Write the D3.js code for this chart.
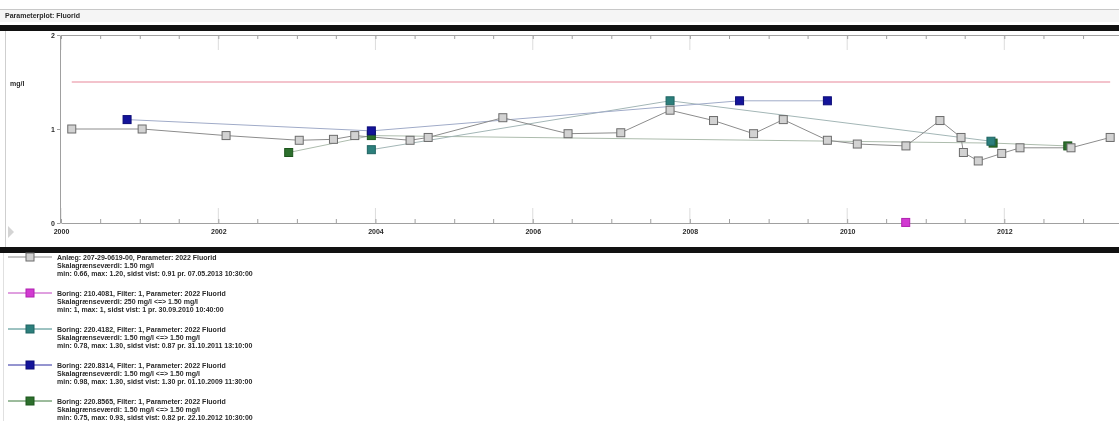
<!DOCTYPE html>
<html>
<head>
<meta charset="utf-8">
<script src="https://cdn.jsdelivr.net/npm/d3@7"></script>
<style>
  html, body { margin: 0; padding: 0; background: #fff; }
  svg { display: block; font-family: "Liberation Sans", Arial, sans-serif; will-change: transform; }
  .lbl { font-size: 7px; font-weight: bold; fill: #2a2a2a; }
</style>
</head>
<body>
<svg id="chart" width="1119" height="421"></svg>
<script>
// ---- Data (Fluorid, mg/l) ----
const grayDates  = ["2000-02-20","2001-01-12","2002-02-06","2003-01-12","2003-06-20","2003-09-27","2004-06-10","2004-09-02","2005-08-15","2006-06-14","2007-02-14","2007-10-01","2008-04-20","2008-10-23","2009-03-10","2009-10-01","2010-02-17","2010-10-01","2011-03-08","2011-06-14","2011-06-25","2011-09-02","2011-12-20","2012-03-14","2012-11-06","2013-05-07"];
const grayValues = [1.00,1.00,0.93,0.88,0.89,0.93,0.88,0.91,1.12,0.95,0.96,1.20,1.09,0.95,1.10,0.88,0.84,0.82,1.09,0.91,0.75,0.66,0.74,0.80,0.80,0.91];

const magentaDates  = ["2010-09-30"];
const magentaValues = [1];          // raw mg/l, scale limit 250 mg/l

const tealDates  = ["2003-12-13","2007-10-01","2011-10-31"];
const tealValues = [0.78,1.30,0.87];

const blueDates  = ["2000-11-03","2003-12-13","2008-08-19","2009-10-01"];
const blueValues = [1.10,0.98,1.30,1.30];

const greenDates  = ["2002-11-24","2003-12-13","2011-11-10","2012-10-22"];
const greenValues = [0.75,0.93,0.85,0.82];

const limitValue = 1.50;            // Skalagrænseværdi, mg/l
const yTicks = [0, 1, 2];

const legendLines = [
  ["Anlæg: 207-29-0619-00, Parameter: 2022 Fluorid",
   "Skalagrænseværdi: 1.50 mg/l",
   "min: 0.66, max: 1.20, sidst vist: 0.91 pr. 07.05.2013 10:30:00"],
  ["Boring: 210.4081, Filter: 1, Parameter: 2022 Fluorid",
   "Skalagrænseværdi: 250 mg/l <=> 1.50 mg/l",
   "min: 1, max: 1, sidst vist: 1 pr. 30.09.2010 10:40:00"],
  ["Boring: 220.4182, Filter: 1, Parameter: 2022 Fluorid",
   "Skalagrænseværdi: 1.50 mg/l <=> 1.50 mg/l",
   "min: 0.78, max: 1.30, sidst vist: 0.87 pr. 31.10.2011 13:10:00"],
  ["Boring: 220.8314, Filter: 1, Parameter: 2022 Fluorid",
   "Skalagrænseværdi: 1.50 mg/l <=> 1.50 mg/l",
   "min: 0.98, max: 1.30, sidst vist: 1.30 pr. 01.10.2009 11:30:00"],
  ["Boring: 220.8565, Filter: 1, Parameter: 2022 Fluorid",
   "Skalagrænseværdi: 1.50 mg/l <=> 1.50 mg/l",
   "min: 0.75, max: 0.93, sidst vist: 0.82 pr. 22.10.2012 10:30:00"]
];

// ---- Series definitions ----
const parse = d3.timeParse("%Y-%m-%d");
const series = [
  { dates: grayDates,    values: grayValues,    scaleLimit: 1.50, fill: "#d2d2d2", stroke: "#6c6c6c", line: "#8c8c8c", legLine: "#8c8c8c" },
  { dates: magentaDates, values: magentaValues, scaleLimit: 250,  fill: "#d23ad2", stroke: "#b020b0", line: "#d070d0", legLine: "#c040c0" },
  { dates: tealDates,    values: tealValues,    scaleLimit: 1.50, fill: "#2c7f7c", stroke: "#1f6462", line: "#a3b6b6", legLine: "#3c8684" },
  { dates: blueDates,    values: blueValues,    scaleLimit: 1.50, fill: "#14149a", stroke: "#0c0c78", line: "#a0abc8", legLine: "#2a2aa0" },
  { dates: greenDates,   values: greenValues,   scaleLimit: 1.50, fill: "#2d6f2d", stroke: "#1d561d", line: "#adbcad", legLine: "#3a783a" }
];
series.forEach(s => {
  // values are rescaled so each series' limit sits at the 1.50 mg/l line
  s.points = s.dates.map((d, i) => ({ date: parse(d), value: s.values[i] * limitValue / s.scaleLimit }));
});

const svg = d3.select("#chart");
const W = 1119;

// ---- Frame: title bar and black separators ----
svg.append("rect").attr("x", 0).attr("y", 9).attr("width", W).attr("height", 13).attr("fill", "#f5f5f5");
svg.append("line").attr("x1", 0).attr("x2", W).attr("y1", 9.5).attr("y2", 9.5).attr("stroke", "#c8c8c8");
svg.append("text").attr("class", "lbl").attr("x", 5).attr("y", 18).text("Parameterplot: Fluorid");
svg.append("rect").attr("x", 0).attr("y", 25).attr("width", W).attr("height", 6).attr("fill", "#111");
svg.append("rect").attr("x", 0).attr("y", 247).attr("width", W).attr("height", 6).attr("fill", "#111");
svg.append("line").attr("x1", 5.5).attr("x2", 5.5).attr("y1", 31).attr("y2", 247).attr("stroke", "#cfcfcf");
svg.append("line").attr("x1", 3.5).attr("x2", 3.5).attr("y1", 253).attr("y2", 421).attr("stroke", "#e0e0e0");
svg.append("path").attr("d", "M8,226 L14,232 L8,238 Z").attr("fill", "#d4d4d4");

// ---- Scales ----
const x = d3.scaleTime().domain([parse("2000-01-01"), parse("2013-06-17")]).range([61, W]);
const y = d3.scaleLinear().domain([0, 2]).range([223, 35]);

// ---- Axes ----
const halfYears = d3.timeMonth.every(6).range(parse("2000-01-01"), parse("2013-07-01"));
const evenYears = d3.timeYear.every(2).range(parse("2000-01-01"), parse("2013-07-01"));

// faint extensions at labelled years
evenYears.forEach(d => {
  svg.append("line").attr("x1", x(d)).attr("x2", x(d)).attr("y1", 35).attr("y2", 50).attr("stroke", "#dcdcdc");
  svg.append("line").attr("x1", x(d)).attr("x2", x(d)).attr("y1", 208).attr("y2", 223).attr("stroke", "#dcdcdc");
});

const fmtYear = d3.timeFormat("%Y");
const axisB = svg.append("g").attr("transform", "translate(0,223)")
  .call(d3.axisBottom(x).tickValues(halfYears).tickSizeInner(-4).tickSizeOuter(0).tickPadding(6)
    .tickFormat(d => (d.getMonth() === 0 && d.getFullYear() % 2 === 0) ? fmtYear(d) : ""));
const axisT = svg.append("g").attr("transform", "translate(0,35)")
  .call(d3.axisTop(x).tickValues(halfYears).tickSizeInner(-4).tickSizeOuter(0).tickFormat(""));
const axisL = svg.append("g").attr("transform", "translate(60,0)")
  .call(d3.axisLeft(y).tickValues(yTicks).tickSizeInner(3).tickSizeOuter(0).tickPadding(2).tickFormat(d3.format("d")));

[axisB, axisT, axisL].forEach(g => {
  g.attr("font-family", null).attr("font-size", null);
  g.select(".domain").attr("stroke", "#a0a0a0");
  g.selectAll(".tick line").attr("stroke", "#a0a0a0");
  g.selectAll(".tick text").attr("class", "lbl").attr("fill", null);
});
svg.append("text").attr("class", "lbl").attr("x", 10).attr("y", 86).text("mg/l");

// ---- Limit line ----
const grayExtent = d3.extent(series[0].points, p => p.date);
svg.append("line")
  .attr("x1", x(grayExtent[0])).attr("x2", x(grayExtent[1]))
  .attr("y1", y(limitValue)).attr("y2", y(limitValue))
  .attr("stroke", "#f3c3cc").attr("stroke-width", 2);

// ---- Series lines and markers ----
const lineGen = d3.line().x(p => x(p.date)).y(p => y(p.value));
const drawOrder = [4, 2, 3, 1, 0];
drawOrder.forEach(i => {
  const s = series[i];
  svg.append("path").datum(s.points).attr("d", lineGen)
    .attr("fill", "none").attr("stroke", s.line).attr("stroke-width", 1);
});
const ms = 8;
drawOrder.forEach(i => {
  const s = series[i];
  svg.append("g").selectAll("rect").data(s.points).join("rect")
    .attr("x", p => x(p.date) - ms / 2).attr("y", p => y(p.value) - ms / 2)
    .attr("width", ms).attr("height", ms)
    .attr("fill", s.fill).attr("stroke", s.stroke).attr("stroke-width", 1);
});

// ---- Legend ----
const legTop = 257, legStep = 36, lineStep = 8;
legendLines.forEach((lines, i) => {
  const s = series[i];
  const gy = legTop + i * legStep;
  svg.append("line").attr("x1", 8).attr("x2", 52).attr("y1", gy).attr("y2", gy)
    .attr("stroke", s.legLine).attr("stroke-width", 1);
  svg.append("rect").attr("x", 30 - ms / 2).attr("y", gy - ms / 2).attr("width", ms).attr("height", ms)
    .attr("fill", s.fill).attr("stroke", s.stroke);
  lines.forEach((t, j) => {
    svg.append("text").attr("class", "lbl").attr("x", 57).attr("y", gy + 2.5 + j * lineStep).text(t);
  });
});
</script>
</body>
</html>
